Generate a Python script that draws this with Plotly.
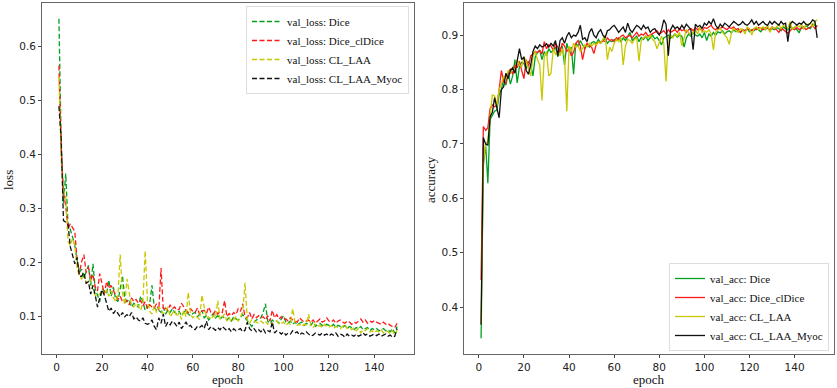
import plotly.graph_objects as go

epochs = list(range(1, 151))

loss_dice = [
    0.652, 0.42, 0.31, 0.365, 0.27, 0.262, 0.248, 0.232, 0.205, 0.182,
    0.188, 0.172, 0.183, 0.195, 0.158, 0.198, 0.152, 0.138, 0.128, 0.152,
    0.148, 0.142, 0.168, 0.138, 0.155, 0.132, 0.128, 0.152, 0.176, 0.135,
    0.128, 0.132, 0.118, 0.125, 0.122, 0.118, 0.138, 0.128, 0.112, 0.118,
    0.124, 0.158, 0.118, 0.112, 0.112, 0.108, 0.118, 0.105, 0.112, 0.108,
    0.115, 0.108, 0.105, 0.11, 0.102, 0.108, 0.112, 0.105, 0.102, 0.106,
    0.108, 0.1, 0.104, 0.112, 0.098, 0.102, 0.094, 0.1, 0.106, 0.098,
    0.102, 0.096, 0.1, 0.098, 0.094, 0.098, 0.092, 0.1, 0.096, 0.094,
    0.1, 0.104, 0.098, 0.092, 0.088, 0.082, 0.09, 0.094, 0.096, 0.098,
    0.108, 0.124, 0.092, 0.088, 0.094, 0.09, 0.092, 0.088, 0.096, 0.102,
    0.09, 0.088, 0.092, 0.086, 0.09, 0.085, 0.088, 0.09, 0.084, 0.088,
    0.086, 0.084, 0.09, 0.082, 0.086, 0.088, 0.084, 0.082, 0.086, 0.084,
    0.082, 0.086, 0.08, 0.084, 0.082, 0.08, 0.084, 0.078, 0.082, 0.08,
    0.076, 0.08, 0.078, 0.082, 0.076, 0.078, 0.08, 0.074, 0.078, 0.076,
    0.078, 0.074, 0.076, 0.078, 0.074, 0.076, 0.072, 0.078, 0.07, 0.082,
]

loss_dice_cldice = [
    0.565, 0.41, 0.33, 0.305, 0.262, 0.272, 0.265, 0.258, 0.205, 0.18,
    0.202, 0.215, 0.182, 0.192, 0.168, 0.178, 0.155, 0.148, 0.18, 0.158,
    0.142, 0.165, 0.152, 0.158, 0.148, 0.14, 0.132, 0.138, 0.128, 0.126,
    0.13, 0.122, 0.135, 0.128, 0.132, 0.125, 0.13, 0.12, 0.128, 0.115,
    0.122, 0.118, 0.116, 0.124, 0.112, 0.19, 0.112, 0.116, 0.112, 0.122,
    0.115, 0.118, 0.112, 0.114, 0.125, 0.118, 0.112, 0.108, 0.115, 0.11,
    0.108, 0.116, 0.104, 0.11, 0.112, 0.106, 0.118, 0.108, 0.104, 0.112,
    0.105, 0.11, 0.108, 0.13, 0.1, 0.106, 0.102, 0.108, 0.104, 0.115,
    0.11, 0.124, 0.1, 0.098, 0.108, 0.096, 0.104, 0.098, 0.102, 0.098,
    0.1, 0.094, 0.102, 0.092, 0.112, 0.098, 0.104, 0.096, 0.1, 0.094,
    0.096, 0.092, 0.098, 0.094, 0.092, 0.09, 0.098, 0.094, 0.09, 0.092,
    0.094, 0.09, 0.094, 0.088, 0.092, 0.096, 0.09, 0.092, 0.098, 0.092,
    0.09, 0.094, 0.088, 0.092, 0.094, 0.09, 0.088, 0.092, 0.09, 0.086,
    0.09, 0.088, 0.092, 0.096, 0.09, 0.094, 0.088, 0.092, 0.09, 0.093,
    0.09, 0.088, 0.086, 0.09, 0.086, 0.088, 0.084, 0.082, 0.08, 0.088,
]

loss_cl_laa = [
    0.545, 0.39, 0.335, 0.322, 0.24, 0.232, 0.245, 0.232, 0.19, 0.175,
    0.17, 0.18, 0.162, 0.165, 0.17, 0.148, 0.14, 0.138, 0.142, 0.15,
    0.14, 0.15, 0.138, 0.148, 0.135, 0.128, 0.14, 0.215, 0.145, 0.122,
    0.17, 0.14, 0.12, 0.118, 0.125, 0.12, 0.112, 0.125, 0.222, 0.13,
    0.11, 0.105, 0.12, 0.108, 0.118, 0.112, 0.105, 0.11, 0.118, 0.1,
    0.105, 0.112, 0.1, 0.108, 0.095, 0.112, 0.1, 0.145, 0.105, 0.098,
    0.102, 0.098, 0.095, 0.14, 0.118, 0.098, 0.1, 0.095, 0.102, 0.098,
    0.13, 0.095, 0.1, 0.105, 0.092, 0.098, 0.09, 0.095, 0.1, 0.092,
    0.098, 0.11, 0.163, 0.095, 0.088, 0.095, 0.092, 0.09, 0.088, 0.092,
    0.088, 0.092, 0.086, 0.09, 0.085, 0.088, 0.092, 0.086, 0.088, 0.09,
    0.084, 0.088, 0.086, 0.115, 0.09, 0.084, 0.086, 0.082, 0.086, 0.085,
    0.105, 0.084, 0.08, 0.086, 0.082, 0.084, 0.08, 0.086, 0.082, 0.08,
    0.084, 0.078, 0.082, 0.08, 0.078, 0.082, 0.086, 0.078, 0.08, 0.076,
    0.08, 0.074, 0.078, 0.07, 0.076, 0.074, 0.078, 0.072, 0.074, 0.07,
    0.074, 0.072, 0.076, 0.07, 0.074, 0.072, 0.068, 0.074, 0.066, 0.075,
]

loss_cl_laa_myoc = [
    0.49, 0.43, 0.278, 0.275, 0.272, 0.23, 0.215, 0.198, 0.21, 0.175,
    0.175, 0.182, 0.162, 0.165, 0.142, 0.158, 0.14, 0.118, 0.135, 0.15,
    0.14, 0.122, 0.11, 0.116, 0.106, 0.112, 0.105, 0.1, 0.108, 0.1,
    0.104, 0.1, 0.108, 0.096, 0.1, 0.094, 0.092, 0.098, 0.088, 0.086,
    0.088, 0.094, 0.082, 0.076, 0.098, 0.088, 0.105, 0.082, 0.09, 0.085,
    0.092, 0.088, 0.082, 0.09, 0.078, 0.085, 0.09, 0.082, 0.084, 0.078,
    0.076, 0.082, 0.08, 0.084, 0.078, 0.092, 0.076, 0.082, 0.078, 0.075,
    0.08, 0.076, 0.082, 0.078, 0.074, 0.078, 0.072, 0.078, 0.074, 0.076,
    0.078, 0.072, 0.075, 0.09, 0.078, 0.074, 0.078, 0.072, 0.076, 0.072,
    0.078, 0.07, 0.074, 0.072, 0.09, 0.07, 0.074, 0.072, 0.068, 0.072,
    0.066, 0.07, 0.068, 0.074, 0.07, 0.072, 0.066, 0.07, 0.068, 0.072,
    0.068, 0.064, 0.066, 0.07, 0.068, 0.066, 0.07, 0.066, 0.068, 0.064,
    0.068, 0.066, 0.07, 0.064, 0.068, 0.066, 0.062, 0.068, 0.064, 0.066,
    0.064, 0.068, 0.064, 0.066, 0.07, 0.066, 0.068, 0.064, 0.066, 0.068,
    0.065, 0.068, 0.064, 0.066, 0.068, 0.064, 0.066, 0.062, 0.064, 0.078,
]

acc_dice = [
    0.343, 0.66, 0.70, 0.628, 0.745, 0.752, 0.76, 0.762, 0.79, 0.80,
    0.82, 0.808, 0.83, 0.81, 0.825, 0.855, 0.812, 0.842, 0.85, 0.848,
    0.838, 0.852, 0.845, 0.825, 0.86, 0.868, 0.872, 0.855, 0.87, 0.862,
    0.875, 0.868, 0.872, 0.878, 0.86, 0.875, 0.88, 0.845, 0.885, 0.87,
    0.878, 0.828, 0.885, 0.88, 0.89, 0.882, 0.875, 0.884, 0.878, 0.886,
    0.888, 0.884, 0.892, 0.886, 0.89, 0.894, 0.885, 0.89, 0.888, 0.892,
    0.89, 0.895, 0.888, 0.895, 0.89, 0.898, 0.905, 0.89, 0.895, 0.898,
    0.888, 0.896, 0.892, 0.898, 0.89, 0.895, 0.9, 0.893, 0.896, 0.89,
    0.882, 0.895, 0.898, 0.9, 0.894, 0.898, 0.902, 0.896, 0.9, 0.898,
    0.878, 0.895, 0.902, 0.898, 0.905, 0.9, 0.898, 0.902, 0.895, 0.905,
    0.89, 0.902, 0.898, 0.905, 0.9, 0.906, 0.904, 0.908, 0.902, 0.906,
    0.908, 0.904, 0.91, 0.906, 0.908, 0.905, 0.91, 0.908, 0.912, 0.906,
    0.91, 0.908, 0.912, 0.91, 0.906, 0.912, 0.91, 0.914, 0.908, 0.912,
    0.91, 0.914, 0.912, 0.908, 0.915, 0.912, 0.91, 0.915, 0.912, 0.914,
    0.91, 0.904, 0.915, 0.912, 0.918, 0.914, 0.912, 0.92, 0.918, 0.916,
]

acc_dice_cldice = [
    0.45, 0.732, 0.725, 0.73, 0.765, 0.772, 0.768, 0.772, 0.80, 0.835,
    0.815, 0.812, 0.83, 0.838, 0.828, 0.845, 0.84, 0.852, 0.835, 0.82,
    0.855, 0.842, 0.862, 0.865, 0.87, 0.868, 0.872, 0.865, 0.888, 0.875,
    0.882, 0.88, 0.872, 0.885, 0.878, 0.868, 0.885, 0.88, 0.87, 0.875,
    0.862, 0.868, 0.885, 0.89, 0.88, 0.855, 0.875, 0.885, 0.88, 0.878,
    0.866, 0.882, 0.888, 0.885, 0.89, 0.888, 0.895, 0.89, 0.892, 0.888,
    0.895, 0.892, 0.898, 0.9, 0.895, 0.898, 0.9, 0.895, 0.9, 0.905,
    0.898, 0.902, 0.9, 0.905, 0.898, 0.9, 0.902, 0.905, 0.908, 0.902,
    0.905, 0.908, 0.902, 0.91, 0.905, 0.908, 0.91, 0.905, 0.912, 0.908,
    0.91, 0.905, 0.91, 0.912, 0.908, 0.914, 0.91, 0.912, 0.908, 0.914,
    0.912, 0.915, 0.918, 0.912, 0.91, 0.914, 0.912, 0.915, 0.912, 0.91,
    0.914, 0.912, 0.915, 0.91, 0.912, 0.905, 0.91, 0.908, 0.912, 0.91,
    0.908, 0.912, 0.91, 0.914, 0.912, 0.91, 0.914, 0.912, 0.91, 0.915,
    0.912, 0.91, 0.905, 0.912, 0.91, 0.906, 0.903, 0.908, 0.912, 0.91,
    0.914, 0.91, 0.912, 0.915, 0.91, 0.912, 0.915, 0.918, 0.912, 0.918,
]

acc_cl_laa = [
    0.37, 0.665, 0.70, 0.705, 0.752, 0.79, 0.788, 0.77, 0.80, 0.81,
    0.825, 0.82, 0.835, 0.83, 0.84, 0.835, 0.855, 0.845, 0.842, 0.86,
    0.852, 0.838, 0.825, 0.86, 0.87, 0.855, 0.845, 0.78, 0.86, 0.87,
    0.825, 0.83, 0.875, 0.865, 0.87, 0.862, 0.875, 0.86, 0.76, 0.88,
    0.87, 0.885, 0.878, 0.88, 0.87, 0.875, 0.882, 0.878, 0.885, 0.88,
    0.885, 0.882, 0.888, 0.885, 0.892, 0.9, 0.855, 0.878, 0.87, 0.885,
    0.892, 0.888, 0.896, 0.845, 0.88, 0.892, 0.89, 0.885, 0.892, 0.895,
    0.852, 0.89, 0.895, 0.898, 0.895, 0.9, 0.892, 0.888, 0.875, 0.888,
    0.898, 0.885, 0.815, 0.895, 0.9, 0.895, 0.902, 0.898, 0.905, 0.88,
    0.895, 0.91, 0.905, 0.9, 0.905, 0.91, 0.902, 0.915, 0.905, 0.908,
    0.905, 0.91, 0.902, 0.873, 0.905, 0.91, 0.912, 0.905, 0.9, 0.895,
    0.883, 0.905, 0.912, 0.908, 0.905, 0.912, 0.91, 0.902, 0.915, 0.912,
    0.9, 0.912, 0.915, 0.91, 0.912, 0.915, 0.91, 0.918, 0.905, 0.915,
    0.912, 0.915, 0.92, 0.912, 0.918, 0.915, 0.912, 0.925, 0.91, 0.915,
    0.918, 0.915, 0.92, 0.912, 0.918, 0.92, 0.922, 0.915, 0.925, 0.928,
]

acc_cl_laa_myoc = [
    0.368, 0.712, 0.70, 0.698, 0.75, 0.758, 0.785, 0.765, 0.748, 0.80,
    0.805, 0.83, 0.82, 0.835, 0.84, 0.83, 0.85, 0.875, 0.855, 0.86,
    0.835, 0.828, 0.845, 0.87, 0.88, 0.875, 0.882, 0.878, 0.88, 0.884,
    0.878, 0.885, 0.88, 0.89, 0.862, 0.89, 0.895, 0.885, 0.898, 0.905,
    0.895, 0.9, 0.898, 0.905, 0.918, 0.892, 0.895, 0.888, 0.905, 0.912,
    0.9, 0.895, 0.905, 0.91, 0.9, 0.895, 0.908, 0.91, 0.915, 0.918,
    0.912, 0.905, 0.91, 0.915, 0.905, 0.922, 0.91, 0.905, 0.912, 0.918,
    0.915, 0.91, 0.918, 0.912, 0.915, 0.905, 0.91, 0.912, 0.905, 0.9,
    0.91, 0.928, 0.92, 0.862, 0.91, 0.918, 0.912, 0.915, 0.91, 0.918,
    0.912, 0.92, 0.915, 0.91, 0.873, 0.92, 0.915, 0.918, 0.912, 0.922,
    0.918, 0.925, 0.92, 0.93, 0.918, 0.912, 0.92, 0.915, 0.922, 0.918,
    0.915, 0.92, 0.925, 0.922, 0.918, 0.92, 0.925, 0.92, 0.918, 0.922,
    0.928, 0.92, 0.925, 0.918, 0.922, 0.925, 0.92, 0.918, 0.925, 0.92,
    0.925, 0.922, 0.918, 0.925, 0.92, 0.922, 0.888, 0.92, 0.925, 0.922,
    0.918, 0.922, 0.92, 0.925, 0.92, 0.918, 0.922, 0.928, 0.925, 0.895,
]

loss_names = ["val_loss: Dice", "val_loss: Dice_clDice", "val_loss: CL_LAA", "val_loss: CL_LAA_Myoc"]
acc_names = ["val_acc: Dice", "val_acc: Dice_clDice", "val_acc: CL_LAA", "val_acc: CL_LAA_Myoc"]
colors = ["#00a020", "#ff1a1a", "#c8c800", "#111111"]

x_ticks = [0, 20, 40, 60, 80, 100, 120, 140]
loss_ticks = [0.1, 0.2, 0.3, 0.4, 0.5, 0.6]
acc_ticks = [0.4, 0.5, 0.6, 0.7, 0.8, 0.9]

SERIF = "Liberation Serif, Times New Roman, serif"
SANS = "DejaVu Sans, sans-serif"

fig = go.Figure()
for name, ys, c in zip(loss_names, [loss_dice, loss_dice_cldice, loss_cl_laa, loss_cl_laa_myoc], colors):
    fig.add_trace(go.Scatter(x=epochs, y=ys, mode="lines", name=name,
                             line=dict(color=c, width=1.3, dash="5px,2.5px"),
                             xaxis="x", yaxis="y", legend="legend"))
for name, ys, c in zip(acc_names, [acc_dice, acc_dice_cldice, acc_cl_laa, acc_cl_laa_myoc], colors):
    fig.add_trace(go.Scatter(x=epochs, y=ys, mode="lines", name=name,
                             line=dict(color=c, width=1.3),
                             xaxis="x2", yaxis="y2", legend="legend2"))

axis_common = dict(showgrid=False, zeroline=False, showline=True, linecolor="#666666",
                   linewidth=1, mirror=True, ticks="outside", ticklen=3, tickcolor="#444444",
                   tickfont=dict(family=SANS, size=10.5, color="#222222"))

legend_common = dict(bgcolor="white", bordercolor="#dddddd", borderwidth=1,
                     font=dict(family=SERIF, size=11, color="#111111"),
                     tracegroupgap=0, itemwidth=30)

fig.update_layout(
    width=837, height=388,
    margin=dict(l=0, r=0, t=0, b=0),
    paper_bgcolor="white", plot_bgcolor="white",
    xaxis=dict(domain=[0.0502, 0.4946], range=[-6.45, 157.45], tickvals=x_ticks, anchor="y", **axis_common),
    yaxis=dict(domain=[0.0876, 0.9923], range=[0.031, 0.681], tickvals=loss_ticks, tickformat=".1f", anchor="x", **axis_common),
    xaxis2=dict(domain=[0.5547, 0.9964], range=[-6.45, 157.45], tickvals=x_ticks, anchor="y2", **axis_common),
    yaxis2=dict(domain=[0.0876, 0.9923], range=[0.314, 0.959], tickvals=acc_ticks, tickformat=".1f", anchor="x2", **axis_common),
    legend=dict(x=409 / 837, y=1 - 6 / 388, xanchor="right", yanchor="top", **legend_common),
    legend2=dict(x=829 / 837, y=1 - 351 / 388, xanchor="right", yanchor="bottom", **legend_common),
    showlegend=True,
)

annots = [
    dict(text="loss", x=8 / 837, y=1 - 180 / 388, textangle=-90, yanchor="middle"),
    dict(text="epoch", x=228 / 837, y=0.0, textangle=0, yanchor="bottom"),
    dict(text="accuracy", x=430 / 837, y=1 - 180 / 388, textangle=-90, yanchor="middle"),
    dict(text="epoch", x=649 / 837, y=0.0, textangle=0, yanchor="bottom"),
]
for a in annots:
    fig.add_annotation(xref="paper", yref="paper", xanchor="center", borderpad=0,
                       showarrow=False, font=dict(family=SERIF, size=13, color="#111111"), **a)

fig.write_html("out.html", config={"displayModeBar": False},
               post_script="document.body.style.margin='0';document.body.style.padding='0';")
